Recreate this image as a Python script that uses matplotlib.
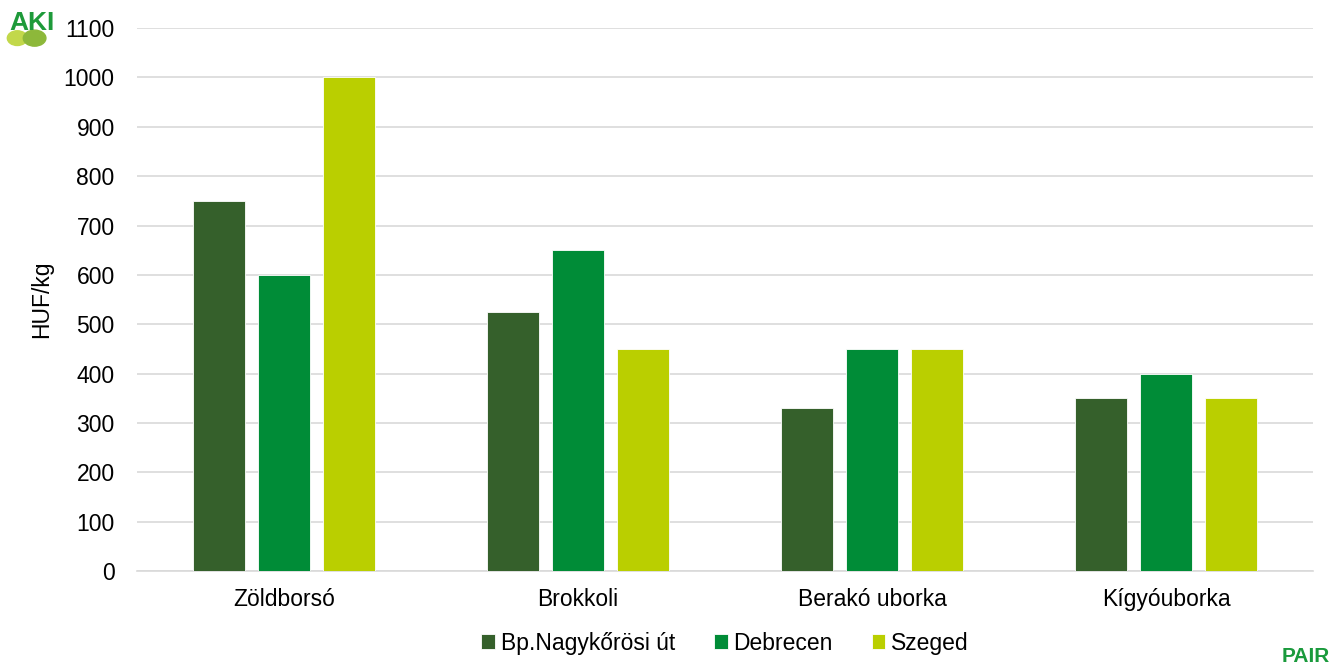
import numpy as np
import matplotlib.pyplot as plt
from matplotlib.patches import Ellipse

plt.rcParams['font.family'] = ['Liberation Sans', 'DejaVu Sans']

categories = ['Zöldborsó', 'Brokkoli', 'Berakó uborka', 'Kígyóuborka']
series_names = ['Bp.Nagykőrösi út', 'Debrecen', 'Szeged']
bp_values = [750, 525, 330, 350]
debrecen_values = [600, 650, 450, 400]
szeged_values = [1000, 450, 450, 350]
yticks = list(range(0, 1101, 100))

colors = ['#35602B', '#008C37', '#BACF00']

fig = plt.figure(figsize=(13.31, 6.69), dpi=100)
ax = fig.add_axes([0.1029, 0.1465, 0.8836, 0.8115])

x = np.arange(len(categories))
width = 0.177
offset = 0.221
for i, (vals, name) in enumerate(zip([bp_values, debrecen_values, szeged_values], series_names)):
    ax.bar(x + (i - 1) * offset, vals, width, color=colors[i], label=name,
           edgecolor='white', linewidth=0.6, zorder=3)

ax.set_xlim(-0.5, len(categories) - 0.5)
ax.set_ylim(0, 1100)
ax.set_yticks(yticks)
ax.set_xticks(x)
ax.set_xticklabels(categories)
ax.tick_params(axis='both', length=0, labelsize=16.5, colors='#000000')
ax.tick_params(axis='x', pad=12)
ax.tick_params(axis='y', pad=16)
ax.grid(axis='y', color='#D9D9D9', linewidth=1.2, zorder=0)
for s in ['top', 'right', 'left']:
    ax.spines[s].set_visible(False)
ax.spines['bottom'].set_color('#D9D9D9')
ax.spines['bottom'].set_linewidth(1.2)
ax.set_ylabel('HUF/kg', fontsize=16.5, labelpad=8)

ax.legend(loc='center', bbox_to_anchor=(0.5, -0.133), ncol=3, frameon=False,
          fontsize=16.5, handlelength=0.6, handleheight=0.6, handletextpad=0.25,
          columnspacing=1.7)

# logos (approximate)
fig.patches.append(Ellipse((0.013, 0.943), 0.015, 0.022, transform=fig.transFigure,
                           color='#C2D84A', zorder=1))
fig.patches.append(Ellipse((0.026, 0.943), 0.017, 0.024, transform=fig.transFigure,
                           color='#8DB83A', zorder=1))
fig.text(0.007, 0.966, 'AKI', fontsize=19, fontweight='bold', color='#1E9A3A',
         ha='left', va='center', zorder=2)
fig.text(0.999, 0.005, 'PAIR', fontsize=15, fontweight='bold', color='#1A9A3C',
         ha='right', va='bottom')

fig.savefig('out.png', dpi=100)
